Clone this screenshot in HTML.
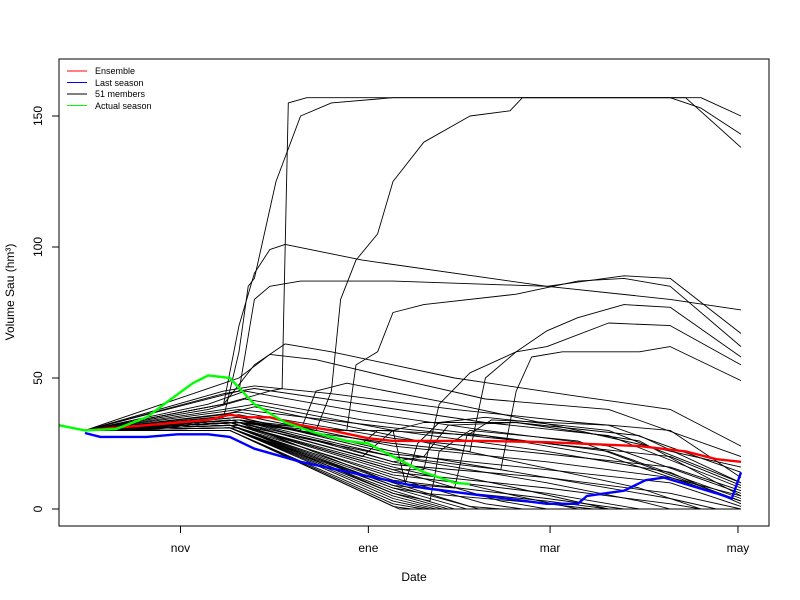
<!DOCTYPE html>
<html><head><meta charset="utf-8"><style>
body{margin:0;background:#fff}
svg{display:block;font-family:"Liberation Sans",sans-serif}
</style></head><body>
<svg id="chart" width="800" height="600">
<rect x="0" y="0" width="800" height="600" fill="#fff"/>
<g id="members"></g>
<g id="main"></g>
<rect x="59" y="59" width="710" height="467" fill="none" stroke="#000" stroke-width="1"/>
<g id="axes"></g>
<text x="414" y="581" font-size="12" text-anchor="middle">Date</text>
<text x="14" y="292" font-size="12" text-anchor="middle" transform="rotate(-90 14 292)">Volume Sau (hm³)</text>
<g>
 <line x1="67" y1="71" x2="87" y2="71" stroke="#f00" stroke-width="1"/>
 <text x="95" y="74" font-size="9">Ensemble</text>
 <line x1="67" y1="82.5" x2="87" y2="82.5" stroke="#00f" stroke-width="1"/>
 <text x="95" y="86" font-size="9">Last season</text>
 <line x1="67" y1="94" x2="87" y2="94" stroke="#000" stroke-width="1"/>
 <text x="95" y="97" font-size="9">51 members</text>
 <line x1="67" y1="105.5" x2="87" y2="105.5" stroke="#0f0" stroke-width="1"/>
 <text x="95" y="109" font-size="9">Actual season</text>
</g>
</svg>
<script>
// days since Oct 1
const xTickLabels=["nov","ene","mar","may"];
const xTickDays=[31,92,151,212];
const yTicks=[0,50,100,150];
const ensemble=[[0,30],[10,31],[20,32],[30,33],[40,34],[47,36],[52,35],[60,35],[70,32],[80,30],[92,27],[100,26],[110,26],[130,26],[150,25.5],[170,24.5],[180,24],[195,22],[205,19],[213,18]];
const lastSeason=[[0,29],[5,27.5],[20,27.5],[30,28.5],[40,28.5],[47,27.5],[55,23],[70,18],[90,13],[110,8],[130,5],[150,2],[160,2],[163,5],[175,7],[182,11],[188,12],[205,6],[210,4],[213,14]];
const actualSeason=[[-8.5,32],[0,30],[10,30.5],[20,35],[28,42],[35,48],[40,51],[47,50],[55,40],[65,33],[75,29],[85,26],[92,25],[100,20],[110,14],[120,10],[125,9.5]];
const members=[
[[0,30],[45,40],[60,45],[64,46],[66,155],[72,157],[200,157],[213,150]],
[[0,30],[45,35],[50,60],[53,85],[55,88],[62,125],[70,150],[80,155],[100,157],[190,157],[200,153],[213,143]],
[[0,30],[50,33],[75,30],[80,45],[83,80],[88,95],[95,105],[100,125],[110,140],[125,150],[138,152],[142,157],[195,157],[213,138]],
[[0,30],[45,40],[50,70],[55,90],[60,99],[65,101],[90,95],[150,85],[190,80],[213,76]],
[[0,30],[50,45],[55,80],[60,85],[70,87],[100,87],[150,85],[175,89],[190,88],[213,67]],
[[0,30],[50,33],[85,30],[88,55],[95,60],[100,75],[110,78],[140,82],[160,87],[175,88],[190,85],[213,62]],
[[0,30],[50,33],[100,25],[125,22],[130,50],[140,60],[150,68],[160,73],[175,78],[190,77],[213,58]],
[[0,30],[50,32],[100,20],[135,15],[140,45],[145,58],[155,60],[180,60],[190,62],[213,49]],
[[0,30],[50,32],[100,15],[110,15],[115,40],[125,52],[140,60],[150,62],[170,71],[190,70],[213,55]],
[[0,30],[45,40],[55,55],[65,63],[80,60],[120,50],[160,43],[190,38],[213,24]],
[[0,30],[50,50],[60,59],[75,57],[100,50],[130,42],[170,38],[213,20]],
[[0,30],[45,45],[55,47],[80,44],[120,38],[160,33],[190,30],[213,12]],
[[0,30],[45,44],[55,46],[90,40],[130,33],[170,28],[213,8]],
[[0,30],[40,40],[52,45],[90,37],[130,30],[170,24],[213,6]],
[[0,30],[40,38],[52,42],[90,34],[130,28],[170,22],[213,4]],
[[0,30],[45,38],[55,40],[100,30],[150,22],[190,14],[213,2]],
[[0,30],[45,36],[55,39],[100,28],[140,18],[180,8],[200,0],[213,0]],
[[0,30],[50,34],[80,30],[100,30],[104,10],[108,25],[115,33],[130,35],[170,30],[213,10]],
[[0,30],[50,33],[100,10],[120,8],[124,28],[132,34],[170,32],[213,14]],
[[0,30],[50,33],[90,20],[100,30],[110,33],[140,33],[180,28],[213,10]],
[[0,30],[50,34],[70,30],[75,45],[85,48],[120,40],[160,30],[213,16]],
[[0,30],[50,34],[90,25],[95,30],[130,28],[170,20],[213,3]],
[[0,30],[50,35],[100,22],[150,12],[190,4],[205,0],[213,0]],
[[0,30],[50,34],[100,20],[150,10],[180,3],[190,0],[213,0]],
[[0,30],[50,34],[100,18],[140,8],[170,0],[213,0]],
[[0,30],[47,33],[100,16],[140,5],[160,0],[213,0]],
[[0,30],[47,33],[100,15],[135,3],[150,0],[213,0]],
[[0,30],[47,33],[100,12],[130,2],[142,0],[213,0]],
[[0,30],[47,32],[100,10],[125,1],[135,0],[213,0]],
[[0,30],[47,32],[100,9],[128,0],[213,0]],
[[0,30],[47,32],[100,8],[124,0],[213,0]],
[[0,30],[47,31],[100,7],[120,0],[213,0]],
[[0,30],[47,31],[100,6],[118,0],[213,0]],
[[0,30],[47,31],[100,5],[116,0],[213,0]],
[[0,30],[47,31],[100,4],[114,0],[213,0]],
[[0,30],[47,30],[100,3],[112,0],[213,0]],
[[0,30],[47,30],[100,2],[110,0],[213,0]],
[[0,30],[47,30],[100,1],[106,0],[213,0]],
[[0,30],[47,30],[102,0],[213,0]],
[[0,30],[47,32],[100,11],[150,4],[175,0],[213,0]],
[[0,30],[47,33],[100,14],[150,8],[190,2],[200,0],[213,0]],
[[0,30],[47,34],[100,17],[150,12],[190,6],[213,0]],
[[0,30],[50,35],[100,21],[150,15],[190,10],[213,1]],
[[0,30],[50,36],[100,24],[150,18],[190,12],[213,5]],
[[0,30],[50,37],[100,27],[150,21],[190,16],[213,7]],
[[0,30],[50,38],[100,31],[150,25],[190,20],[213,9]],
[[0,30],[50,33],[80,25],[100,18],[110,20],[118,32],[140,33],[180,26],[213,5]],
[[0,30],[50,31],[100,6],[112,3],[115,22],[125,30],[160,26],[213,3]],
[[0,30],[47,31],[100,8],[110,6],[150,2],[165,0],[213,0]],
[[0,30],[47,32],[100,13],[150,6],[180,0],[213,0]],
[[0,30],[47,31],[100,9],[150,3],[170,0],[213,0]]
];
const ns='http://www.w3.org/2000/svg';
function xs(d){return 85+d*3.08;}
function ys(v){return 509-v*2.62;}
function pathOf(pts){return pts.map((p,i)=>(i?'L':'M')+xs(p[0]).toFixed(1)+','+ys(p[1]).toFixed(1)).join('');}
const mg=document.getElementById('members');
members.forEach((m,i)=>{
 const p=document.createElementNS(ns,'path');
 p.setAttribute('d',pathOf(m));p.setAttribute('fill','none');p.setAttribute('stroke','#000');p.setAttribute('stroke-width','0.9');p.setAttribute('stroke-linejoin','round');
 
 
 mg.appendChild(p);
});
const main=document.getElementById('main');
function addMain(pts,c,name){
 const p=document.createElementNS(ns,'path');
 p.setAttribute('d',pathOf(pts));p.setAttribute('fill','none');p.setAttribute('stroke',c);p.setAttribute('stroke-width','2.4');p.setAttribute('stroke-linejoin','round');
 
 
 main.appendChild(p);
}
addMain(ensemble,'#f00','ensemble-line');
addMain(lastSeason,'#00f','last-season-line');
addMain(actualSeason,'#0f0','actual-season-line');
const ax=document.getElementById('axes');
xTickDays.forEach((d,i)=>{
 const l=document.createElementNS(ns,'line');
 l.setAttribute('x1',xs(d));l.setAttribute('x2',xs(d));l.setAttribute('y1',526);l.setAttribute('y2',533);l.setAttribute('stroke','#000');
 
 
 ax.appendChild(l);
 const t=document.createElementNS(ns,'text');
 t.setAttribute('x',xs(d));t.setAttribute('y',552);t.setAttribute('font-size','12');t.setAttribute('text-anchor','middle');
 t.textContent=xTickLabels[i];
 
 
 ax.appendChild(t);
});
yTicks.forEach(v=>{
 const l=document.createElementNS(ns,'line');
 l.setAttribute('x1',52);l.setAttribute('x2',59);l.setAttribute('y1',ys(v));l.setAttribute('y2',ys(v));l.setAttribute('stroke','#000');
 
 
 ax.appendChild(l);
 const t=document.createElementNS(ns,'text');
 const y=ys(v);
 t.setAttribute('x',42);t.setAttribute('y',y);t.setAttribute('font-size','12');t.setAttribute('text-anchor','middle');
 t.setAttribute('transform','rotate(-90 42 '+y+')');
 t.textContent=v;
 
 
 ax.appendChild(t);
});
</script>
</body></html>
